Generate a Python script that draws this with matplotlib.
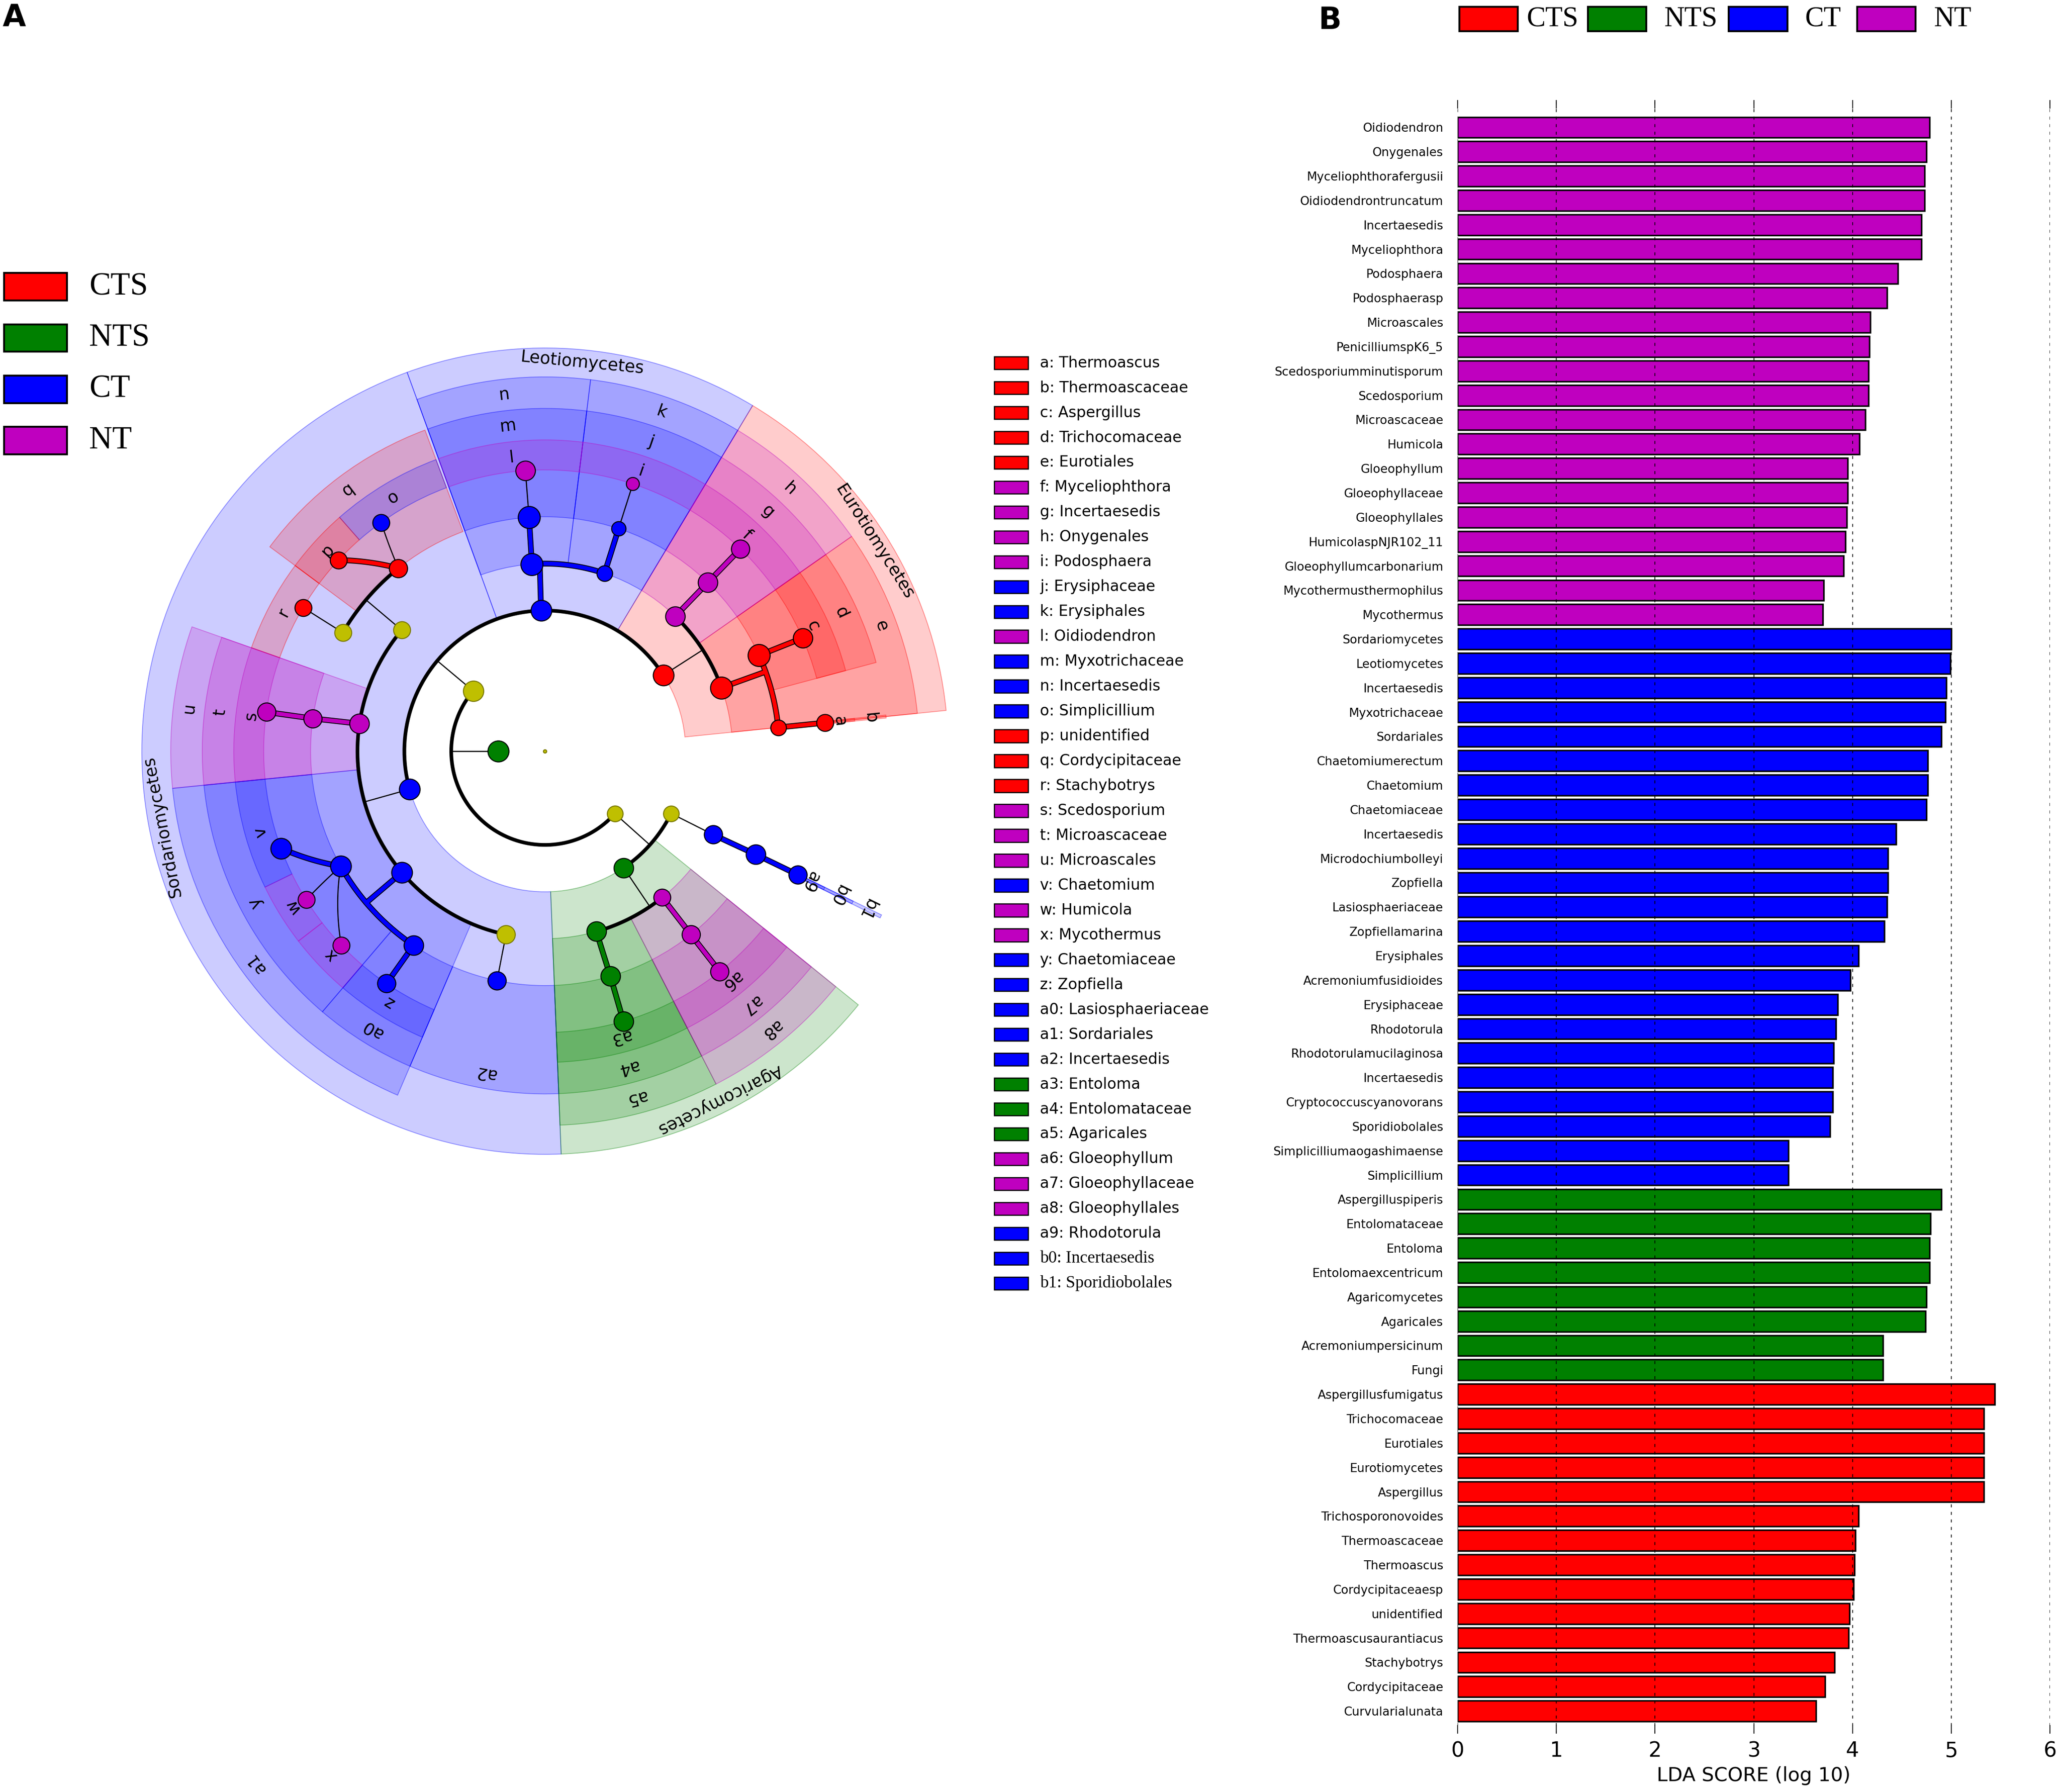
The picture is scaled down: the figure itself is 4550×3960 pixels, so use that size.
import numpy as np
import matplotlib
matplotlib.use("Agg")
import matplotlib.pyplot as plt
from matplotlib.patches import Wedge, Rectangle
from matplotlib.colors import to_rgba

plt.rcParams["font.family"] = ["DejaVu Sans"]

# ---------------- data ----------------
group_names = ["CTS", "NTS", "CT", "NT"]
group_colors = {"CTS": "#ff0000", "NTS": "#008000", "CT": "#0000ff",
                "NT": "#bf00bf", "none": "#bfbf00"}

# panel B: LDA scores, top to bottom
bar_names = [
    "Oidiodendron", "Onygenales", "Myceliophthorafergusii", "Oidiodendrontruncatum",
    "Incertaesedis", "Myceliophthora", "Podosphaera", "Podosphaerasp", "Microascales",
    "PenicilliumspK6_5", "Scedosporiumminutisporum", "Scedosporium", "Microascaceae",
    "Humicola", "Gloeophyllum", "Gloeophyllaceae", "Gloeophyllales", "HumicolaspNJR102_11",
    "Gloeophyllumcarbonarium", "Mycothermusthermophilus", "Mycothermus",
    "Sordariomycetes", "Leotiomycetes", "Incertaesedis", "Myxotrichaceae", "Sordariales",
    "Chaetomiumerectum", "Chaetomium", "Chaetomiaceae", "Incertaesedis",
    "Microdochiumbolleyi", "Zopfiella", "Lasiosphaeriaceae", "Zopfiellamarina",
    "Erysiphales", "Acremoniumfusidioides", "Erysiphaceae", "Rhodotorula",
    "Rhodotorulamucilaginosa", "Incertaesedis", "Cryptococcuscyanovorans",
    "Sporidiobolales", "Simplicilliumaogashimaense", "Simplicillium",
    "Aspergilluspiperis", "Entolomataceae", "Entoloma", "Entolomaexcentricum",
    "Agaricomycetes", "Agaricales", "Acremoniumpersicinum", "Fungi",
    "Aspergillusfumigatus", "Trichocomaceae", "Eurotiales", "Eurotiomycetes",
    "Aspergillus", "Trichosporonovoides", "Thermoascaceae", "Thermoascus",
    "Cordycipitaceaesp", "unidentified", "Thermoascusaurantiacus", "Stachybotrys",
    "Cordycipitaceae", "Curvularialunata"]
bar_scores = [
    4.78, 4.75, 4.73, 4.73, 4.70, 4.70, 4.46, 4.35, 4.18, 4.17, 4.16, 4.16, 4.13,
    4.07, 3.95, 3.95, 3.94, 3.93, 3.91, 3.71, 3.70,
    5.00, 4.99, 4.95, 4.94, 4.90, 4.76, 4.76, 4.75, 4.44, 4.36, 4.36, 4.35, 4.32,
    4.06, 3.98, 3.85, 3.83, 3.81, 3.80, 3.80, 3.77, 3.35, 3.35,
    4.90, 4.79, 4.78, 4.78, 4.75, 4.74, 4.31, 4.31,
    5.44, 5.33, 5.33, 5.33, 5.33, 4.06, 4.03, 4.02, 4.01, 3.97, 3.96, 3.82, 3.72, 3.63]
bar_groups = ["NT"] * 21 + ["CT"] * 23 + ["NTS"] * 8 + ["CTS"] * 14

# panel A: cladogram nodes (taxonomic level and angle in degrees)
node_ids = [
    "root", "Fungi", "Ascomycota", "Basidiomycota",
    "Eurotiomycetes", "Leotiomycetes", "Sordariomycetes", "Agaricomycetes", "Microbotryomycetes",
    "h", "e", "g", "f", "d", "c", "b", "a",
    "k", "j", "i", "n", "m", "l",
    "Hypocreales", "q", "o", "p", "Stachybotryaceae", "r",
    "u", "t", "s",
    "a1", "y", "v", "w", "x", "a0", "z",
    "Sordariomycetes_is", "a2",
    "a5", "a4", "a3", "a8", "a7", "a6",
    "b1", "b0", "a9"]
node_parents = [
    None, "root", "Fungi", "Fungi",
    "Ascomycota", "Ascomycota", "Ascomycota", "Basidiomycota", "Basidiomycota",
    "Eurotiomycetes", "Eurotiomycetes", "h", "g", "e", "d", "e", "b",
    "Leotiomycetes", "k", "j", "Leotiomycetes", "n", "m",
    "Sordariomycetes", "Hypocreales", "q", "q", "Hypocreales", "Stachybotryaceae",
    "Sordariomycetes", "u", "t",
    "Sordariomycetes", "a1", "y", "y", "y", "a1", "a0",
    "Sordariomycetes", "Sordariomycetes_is",
    "Agaricomycetes", "a5", "a4", "Agaricomycetes", "a8", "a7",
    "Microbotryomycetes", "b1", "b0"]
node_levels = [0, 1, 2, 2,
               3, 3, 3, 3, 3,
               4, 4, 5, 6, 5, 6, 5, 6,
               4, 5, 6, 4, 5, 6,
               4, 5, 6, 6, 5, 6,
               4, 5, 6,
               4, 5, 6, 6, 6, 5, 6,
               4, 5,
               4, 5, 6, 4, 5, 6,
               4, 5, 6]
node_angles = [0, 180, 140, 318.2,
               32.7, 91.6, 195.7, 304.0, 333.7,
               46.0, 19.8, 46.0, 46.0, 24.1, 23.7, 5.8, 5.8,
               71.5, 71.7, 71.8, 94.0, 93.9, 94.0,
               139.8, 128.7, 125.6, 137.2, 149.6, 149.3,
               171.6, 172.0, 172.0,
               220.3, 209.4, 200.2, 211.9, 223.6, 235.9, 235.7,
               258.0, 258.2,
               285.9, 286.2, 286.2, 308.7, 308.5, 308.4,
               333.6, 333.9, 333.95]
node_groups = ["none", "NTS", "none", "none",
               "CTS", "CT", "CT", "NTS", "none",
               "NT", "CTS", "NT", "NT", "CTS", "CTS", "CTS", "CTS",
               "CT", "CT", "NT", "CT", "CT", "NT",
               "none", "CTS", "CT", "CTS", "none", "CTS",
               "NT", "NT", "NT",
               "CT", "CT", "CT", "NT", "NT", "CT", "CT",
               "none", "CT",
               "NTS", "NTS", "NTS", "NT", "NT", "NT",
               "CT", "CT", "CT"]
node_sizes = [2.5, 16, 15.5, 12,
              15.8, 15.8, 15.8, 14.9, 11.9,
              14.9, 16.8, 14.9, 13.9, 16.8, 14.8, 11.9, 12.9,
              11.9, 10.9, 9.9, 16.8, 16.8, 14.9,
              12.9, 13.9, 12.9, 12.9, 12.9, 12.9,
              14.9, 13.9, 13.9,
              15.8, 15.8, 15.8, 12.9, 12.9, 14.9, 13.9,
              13.9, 13.9,
              14.9, 14.9, 14.9, 12.9, 13.9, 13.9,
              13.9, 14.9, 13.9]

# highlighted clades (sector from/to angle in degrees)
clade_keys = ["a", "b", "c", "d", "e", "f", "g", "h", "i", "j", "k", "l", "m", "n",
              "o", "p", "q", "r", "s", "t", "u", "v", "w", "x", "y", "z",
              "a0", "a1", "a2", "a3", "a4", "a5", "a6", "a7", "a8", "a9", "b0", "b1",
              "Eurotiomycetes", "Leotiomycetes", "Sordariomycetes", "Agaricomycetes"]
clade_names = ["Thermoascus", "Thermoascaceae", "Aspergillus", "Trichocomaceae",
               "Eurotiales", "Myceliophthora", "Incertaesedis", "Onygenales",
               "Podosphaera", "Erysiphaceae", "Erysiphales", "Oidiodendron",
               "Myxotrichaceae", "Incertaesedis", "Simplicillium", "unidentified",
               "Cordycipitaceae", "Stachybotrys", "Scedosporium", "Microascaceae",
               "Microascales", "Chaetomium", "Humicola", "Mycothermus", "Chaetomiaceae",
               "Zopfiella", "Lasiosphaeriaceae", "Sordariales", "Incertaesedis",
               "Entoloma", "Entolomataceae", "Agaricales", "Gloeophyllum",
               "Gloeophyllaceae", "Gloeophyllales", "Rhodotorula", "Incertaesedis",
               "Sporidiobolales",
               "Eurotiomycetes", "Leotiomycetes", "Sordariomycetes", "Agaricomycetes"]
clade_groups = ["CTS", "CTS", "CTS", "CTS", "CTS", "NT", "NT", "NT", "NT", "CT", "CT",
                "NT", "CT", "CT", "CT", "CTS", "CTS", "CTS", "NT", "NT", "NT", "CT",
                "NT", "NT", "CT", "CT", "CT", "CT", "CT", "NTS", "NTS", "NTS", "NT",
                "NT", "NT", "CT", "CT", "CT",
                "CTS", "CT", "CT", "NTS"]
clade_levels = [6, 5, 6, 5, 4, 6, 5, 4, 6, 5, 4, 6, 5, 4, 6, 6, 5, 6, 6, 5, 4, 6, 6, 6,
                5, 6, 5, 4, 5, 6, 5, 4, 6, 5, 4, 6, 5, 4,
                3, 3, 3, 3]
clade_from = [5.8, 5.8, 15, 15, 5.8, 35, 35, 35, 59, 59, 59, 83, 83, 83,
              110.5, 131.3, 110.5, 143.4, 160.6, 160.6, 160.6, 185.7, 205.9, 217.6,
              185.7, 229.5, 229.5, 185.7, 246.8, 272.3, 272.3, 272.3, 297.2, 297.2,
              297.2, 333.8, 333.8, 333.8,
              5.8, 59, 110, 272.3]
clade_to = [5.8, 5.8, 35, 35, 35, 59, 59, 59, 83, 83, 83, 110, 110, 110,
            131.3, 143.4, 143.4, 160.6, 185.7, 185.7, 185.7, 205.9, 217.6, 229.5,
            229.5, 246.8, 246.8, 246.8, 272.3, 297.2, 297.2, 297.2, 321, 321,
            321, 333.8, 333.8, 333.8,
            59, 110, 272.3, 321]

# ---------------- layout helpers ----------------
SCALE = 2.902
W = 4550 / SCALE
H = 3960 / SCALE


def box(x0, y0, x1, y1):
    return [x0 / W, 1 - y1 / H, (x1 - x0) / W, (y1 - y0) / H]


def polar_xy(r, theta):
    t = np.deg2rad(theta)
    return r * np.cos(t), r * np.sin(t)


fig = plt.figure(figsize=(45.5, 39.6), dpi=100)

ov = fig.add_axes([0, 0, 1, 1])
ov.set_xlim(0, W)
ov.set_ylim(H, 0)
ov.axis("off")

# ---------------- panel A: cladogram ----------------
ax = fig.add_axes(box(0, 150, 760, 1000))
ax.set_xlim(-415, 345)
ax.set_ylim(-428, 422)
ax.axis("off")

ring = 35.7
wedge_out = {3: 307, 4: 285, 5: 261, 6: 237}
label_r = {3: 297, 4: 273, 5: 249, 6: 225}

for i in sorted(range(len(clade_keys)), key=lambda k: clade_levels[k]):
    lev = clade_levels[i]
    col = group_colors[clade_groups[i]]
    t1, t2 = clade_from[i], clade_to[i]
    if t2 - t1 < 0.5:
        t1, t2 = t1 - 0.25, t1 + 0.25
    ax.add_patch(Wedge((0, 0), wedge_out[lev], t1, t2, width=wedge_out[lev] - ring * lev,
                       facecolor=to_rgba(col, 0.2), edgecolor=to_rgba(col, 0.4),
                       lw=1.3, zorder=1))
    tm = (clade_from[i] + clade_to[i]) / 2
    x, y = polar_xy(label_r[lev], tm)
    ax.text(x, y, clade_keys[i], rotation=tm - 90, rotation_mode="anchor",
            ha="center", va="center", fontsize=27, zorder=4)

idx = {n: i for i, n in enumerate(node_ids)}
kids = {i: [] for i in range(len(node_ids))}
for i, p in enumerate(node_parents):
    if p is not None:
        kids[idx[p]].append(i)


def seg(ta, tb, ra, rb, color, lw, outline):
    t = np.linspace(ta, tb, 80)
    r = np.linspace(ra, rb, 80)
    x, y = polar_xy(r, t)
    if outline:
        ax.plot(x, y, color="k", lw=lw + 2.6, solid_capstyle="round", zorder=2.9)
    ax.plot(x, y, color=color, lw=lw, solid_capstyle="round", zorder=3)


for p, ch in kids.items():
    if not ch or node_levels[p] == 0:
        continue
    gp = node_groups[p]
    rp = ring * node_levels[p]
    tp = node_angles[p]
    rc = ring * node_levels[ch[0]]
    if len(ch) == 1 or all(node_levels[c] == 6 for c in ch):
        for c in ch:
            if gp != "none" and node_groups[c] == gp:
                seg(tp, node_angles[c], rp, rc, group_colors[gp], 6.5, True)
            else:
                seg(tp, node_angles[c], rp, rc, "k", 1.8, False)
    else:
        ang = [node_angles[c] for c in ch] + [tp]
        if gp != "none" and all(node_groups[c] == gp for c in ch):
            seg(tp, tp, rp, rc, group_colors[gp], 6.5, True)
            seg(min(ang), max(ang), rc, rc, group_colors[gp], 6.5, True)
        else:
            seg(tp, tp, rp, rc, "k", 1.8, False)
            seg(min(ang), max(ang), rc, rc, "k", 5.8, False)

for i in range(len(node_ids)):
    x, y = polar_xy(ring * node_levels[i], node_angles[i])
    g = node_groups[i]
    ax.plot(x, y, "o", ms=2.089 * node_sizes[i], mfc=group_colors[g],
            mec="k" if g != "none" else "#7a7a00", mew=1.6, zorder=5)

# group legend (left)
for k, g in enumerate(group_names):
    yc = 218.3 + k * 39.1
    ov.add_patch(Rectangle((3, yc - 10.5), 48, 21, facecolor=group_colors[g],
                           edgecolor="k", lw=3))
    ov.text(68, yc, g, fontsize=51, family="Liberation Serif", va="center", ha="left")

# clade key list
letter_keys = [k for k, n in zip(clade_keys, clade_names) if k != n]
for k, key in enumerate(letter_keys):
    j = clade_keys.index(key)
    yc = 276.4 + k * 18.94
    ov.add_patch(Rectangle((757, yc - 4.9), 26, 9.8, facecolor=group_colors[clade_groups[j]],
                           edgecolor="k", lw=1.8))
    fam = "Liberation Serif" if key in ("b0", "b1") else "DejaVu Sans"
    fs = 27 if key in ("b0", "b1") else 24
    ov.text(792, yc, f"{key}: {clade_names[j]}", fontsize=fs, family=fam,
            va="center", ha="left")

ov.text(2, 2, "A", fontsize=48, fontweight="bold", va="top", ha="left")

# ---------------- panel B: LDA bar chart ----------------
axb = fig.add_axes(box(1110, 76, 1561, 1320))
pos = np.arange(len(bar_names))
axb.barh(pos, bar_scores, height=0.85, color=[group_colors[g] for g in bar_groups],
         edgecolor="k", linewidth=2.5, zorder=2)
axb.set_xlim(0, 6)
axb.set_ylim(len(bar_names) - 0.08, -1.13)
axb.set_axisbelow(False)
axb.grid(axis="x", ls=(0, (4, 6)), color="k", lw=1.2)
axb.set_xticks(range(7))
axb.tick_params(axis="x", top=True, bottom=True, direction="in", length=14,
                width=1.3, labelsize=33, pad=12)
axb.set_yticks(pos)
axb.set_yticklabels(bar_names)
axb.tick_params(axis="y", length=0, pad=23, labelsize=19)
for s in axb.spines.values():
    s.set_visible(False)
axb.set_xlabel("LDA SCORE (log 10)", fontsize=31, labelpad=8)

# group legend (top)
top_patch_x = [1111.4, 1209.2, 1316.5, 1414.2]
top_text_x = [1162.5, 1267, 1374.4, 1472.5]
for g, px, tx in zip(group_names, top_patch_x, top_text_x):
    ov.add_patch(Rectangle((px, 5.3), 44.5, 18.4, facecolor=group_colors[g],
                           edgecolor="k", lw=3))
    ov.text(tx, 14.8, g, fontsize=45, family="Liberation Serif", va="center", ha="left")

ov.text(1004, 4, "B", fontsize=48, fontweight="bold", va="top", ha="left")

fig.savefig("out.png", dpi=100)
